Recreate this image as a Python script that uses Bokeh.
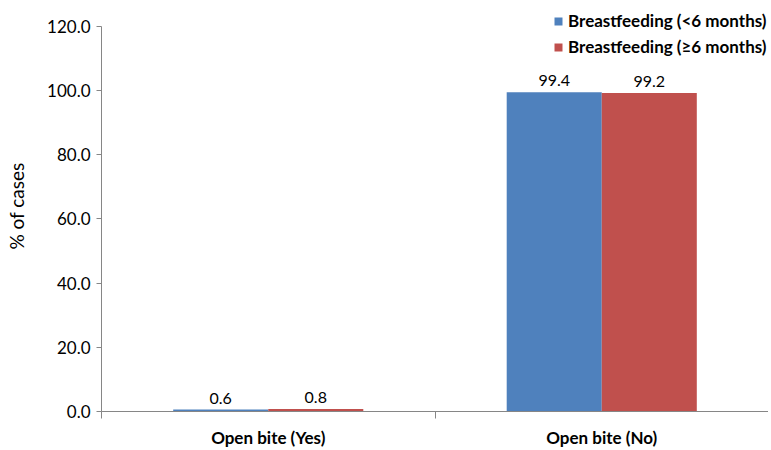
from bokeh.plotting import figure
from bokeh.models import ColumnDataSource, FixedTicker, Legend, LegendItem, Range1d, LabelSet
from bokeh.core.properties import value
from bokeh.embed import file_html
from bokeh.resources import INLINE

categories = ["Open bite (Yes)", "Open bite (No)"]
series_names = ["Breastfeeding (<6 months)", "Breastfeeding (\u22656 months)"]
under6 = [0.6, 99.4]
over6 = [0.8, 99.2]
colors = ["#4F81BD", "#C0504D"]
y_ticks = [0, 20, 40, 60, 80, 100, 120]

FONT = "Lato"
bar_w = 0.285

p = figure(width=768, height=450, output_backend="svg", toolbar_location=None,
           x_range=Range1d(0, len(categories)), y_range=Range1d(0, 128))
p.min_border_left = 101
p.min_border_right = 0
p.min_border_top = 0
p.min_border_bottom = 38
p.outline_line_color = None
p.xgrid.grid_line_color = None
p.ygrid.grid_line_color = None
p.background_fill_color = "white"
p.border_fill_color = "white"

centers = [i + 0.5 for i in range(len(categories))]
items = []
for k, (vals, col, name) in enumerate(zip([under6, over6], colors, series_names)):
    off = (k - 0.5) * bar_w
    src = ColumnDataSource(dict(x=[c + off for c in centers], top=vals,
                                lab=["%.1f" % v for v in vals]))
    r = p.vbar(x="x", top="top", bottom=0, width=bar_w, source=src,
               fill_color=col, line_color=None)
    items.append(LegendItem(label=name, renderers=[r]))
    p.add_layout(LabelSet(x="x", y="top", text="lab", source=src,
                          text_align="center", text_baseline="bottom", y_offset=6,
                          text_font=value(FONT), text_font_size="16px",
                          text_color="#000000"))

legend = Legend(items=items, location=(452, 354), orientation="vertical",
                background_fill_alpha=0, border_line_alpha=0,
                label_text_font=FONT, label_text_font_style="bold",
                label_text_font_size="17px", label_text_color="#000000",
                glyph_width=10, glyph_height=10, spacing=5, padding=0, margin=0,
                label_height=20, label_standoff=5)
p.add_layout(legend)

# x axis
p.xaxis.ticker = FixedTicker(ticks=centers, minor_ticks=list(range(len(categories) + 1)))
p.xaxis.major_label_overrides = {c: name for c, name in zip(centers, categories)}
p.xaxis.major_tick_line_color = None
p.xaxis.major_tick_out = 6
p.xaxis.minor_tick_out = 7
p.xaxis.minor_tick_in = 0
p.xaxis.minor_tick_line_color = "#868686"
p.xaxis.axis_line_color = "#868686"
p.xaxis.major_label_text_font = FONT
p.xaxis.major_label_text_font_style = "bold"
p.xaxis.major_label_text_font_size = "17px"
p.xaxis.major_label_text_color = "#000000"
p.xaxis.major_label_standoff = 8

# y axis
p.yaxis.ticker = FixedTicker(ticks=y_ticks)
p.yaxis.bounds = (0, 120)
p.yaxis.major_label_overrides = {t: "%.1f" % t for t in y_ticks}
p.yaxis.minor_tick_line_color = None
p.yaxis.major_tick_out = 5
p.yaxis.major_tick_in = 0
p.yaxis.major_tick_line_color = "#868686"
p.yaxis.axis_line_color = "#868686"
p.yaxis.major_label_text_font = FONT
p.yaxis.major_label_text_font_size = "17px"
p.yaxis.major_label_text_color = "#000000"
p.yaxis.major_label_standoff = 6
p.yaxis.axis_label = "% of cases"
p.yaxis.axis_label_text_font = FONT
p.yaxis.axis_label_text_font_style = "normal"
p.yaxis.axis_label_text_font_size = "19px"
p.yaxis.axis_label_text_color = "#000000"
p.yaxis.axis_label_standoff = 16

open("out.html", "w").write(file_html(p, INLINE))
